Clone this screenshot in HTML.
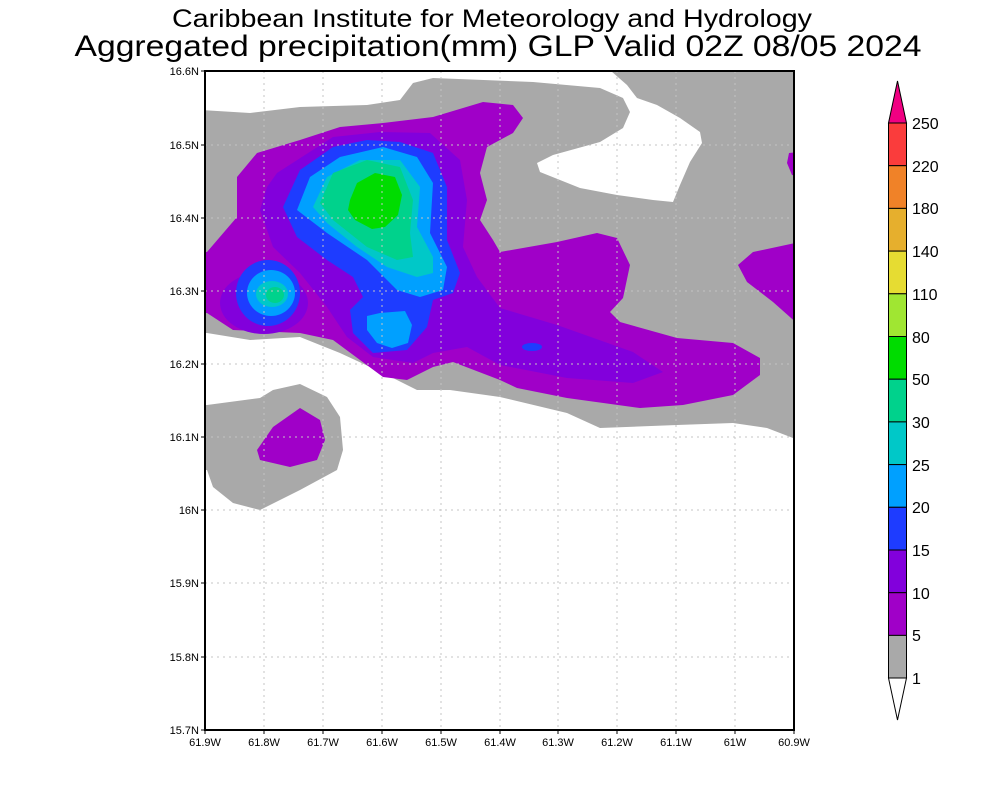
<!DOCTYPE html>
<html><head><meta charset="utf-8"><style>html,body{margin:0;padding:0;background:#fff}svg{display:block}</style></head>
<body>
<svg width="1000" height="800" viewBox="0 0 1000 800" xmlns="http://www.w3.org/2000/svg" font-family="Liberation Sans, sans-serif">
<rect width="1000" height="800" fill="#fff"/>
<text x="492" y="27" text-anchor="middle" font-size="25" textLength="640" lengthAdjust="spacingAndGlyphs">Caribbean Institute for Meteorology and Hydrology</text>
<text x="498" y="56" text-anchor="middle" font-size="30" textLength="847" lengthAdjust="spacingAndGlyphs">Aggregated precipitation(mm) GLP Valid 02Z 08/05 2024</text>
<defs><clipPath id="c"><rect x="205" y="71" width="589" height="659"/></clipPath></defs>
<g clip-path="url(#c)">
<rect x="205" y="71" width="589" height="659" fill="#a9a9a9"/>
<!-- top white + bay -->
<path fill="#fff" d="M200,71 L611,71 L627,85 L637,98 L657,105 L680,118 L700,132 L702,143 L690,162 L680,185 L673,202 L653,200 L617,195 L580,188 L540,172 L537,163 L553,155 L600,142 L623,128 L630,112 L623,98 L600,88 L533,82 L433,78 L413,83 L400,100 L367,105 L300,107 L250,113 L200,110 Z"/>
<!-- bottom white -->
<path fill="#fff" d="M200,333 L207,333 L250,340 L300,337 L340,353 L383,373 L417,390 L450,390 L500,397 L567,413 L600,428 L677,425 L733,423 L767,428 L793,438 L800,442 L800,740 L200,740 Z"/>
<!-- lower-left gray blob -->
<path fill="#a9a9a9" d="M200,405 L207,405 L260,398 L273,390 L300,384 L327,397 L340,417 L343,450 L337,470 L300,490 L260,510 L233,503 L213,487 L207,470 L200,470 Z"/>
<path fill="#a000c8" d="M300,408 L320,420 L325,440 L317,460 L290,467 L260,460 L257,450 L273,427 Z"/>
<!-- right purple blobs -->
<path fill="#a000c8" d="M800,242 L753,252 L738,265 L747,282 L773,302 L800,326 Z"/>
<path fill="#a000c8" d="M800,152 L789,153 L787,163 L792,175 L800,176 Z"/>
<!-- main purple -->
<path fill="#a000c8" d="M200,252 L207,252 L237,217 L237,177 L257,153 L300,140 L340,127 L383,123 L433,117 L483,102 L513,105 L523,118 L513,133 L487,147 L480,173 L487,200 L480,220 L493,240 L500,252 L557,242 L597,233 L617,238 L630,265 L623,298 L610,312 L620,322 L677,338 L733,343 L760,358 L760,375 L733,395 L683,405 L640,408 L567,398 L517,388 L500,380 L453,362 L433,367 L407,380 L383,377 L360,360 L333,340 L300,333 L233,330 L207,313 L200,313 Z"/>
<!-- violet -->
<path fill="#8200dc" d="M267,187 L277,173 L333,137 L380,132 L430,133 L460,160 L467,200 L463,247 L477,277 L500,308 L557,325 L633,352 L663,372 L633,383 L567,378 L500,365 L467,347 L433,353 L413,363 L373,357 L347,337 L327,307 L300,273 L273,247 L260,210 Z"/>
<ellipse cx="264" cy="303" rx="44" ry="31" fill="#8200dc"/>
<!-- blue -->
<path fill="#1e3cff" d="M283,207 L300,170 L333,147 L367,140 L400,142 L433,153 L447,187 L447,240 L460,273 L453,293 L433,300 L427,327 L407,350 L373,353 L353,333 L350,310 L363,297 L353,277 L327,260 L297,237 Z"/>
<ellipse cx="268" cy="293" rx="32" ry="33" fill="#1e3cff"/>
<ellipse cx="532" cy="347" rx="10" ry="4" fill="#1e3cff"/>
<!-- light blue -->
<path fill="#00a0ff" d="M297,210 L310,177 L340,157 L383,147 L417,157 L433,183 L430,233 L447,267 L443,290 L420,297 L397,290 L367,260 L327,233 Z"/>
<path fill="#00a0ff" d="M367,316 L380,313 L405,311 L412,325 L408,343 L392,348 L377,343 L367,330 Z"/>
<ellipse cx="271" cy="293" rx="24" ry="23" fill="#00a0ff"/>
<!-- cyan -->
<path fill="#00c8c8" d="M313,207 L327,177 L360,160 L400,160 L420,187 L417,227 L433,257 L433,273 L417,277 L387,267 L357,247 L327,223 Z"/>
<ellipse cx="272" cy="294" rx="16" ry="13" fill="#00c8c8"/>
<!-- teal -->
<path fill="#00d28c" d="M320,203 L333,173 L367,160 L400,167 L413,200 L410,233 L413,257 L397,260 L367,247 L333,220 Z"/>
<ellipse cx="275" cy="295" rx="9" ry="8" fill="#00d28c"/>
<!-- green -->
<path fill="#00dc00" d="M350,200 L357,183 L375,173 L395,177 L402,195 L398,215 L385,227 L372,229 L355,220 L348,210 Z"/>
</g>
<!-- grid -->
<g stroke="#c4c4c4" stroke-width="1" stroke-dasharray="2,4">
<line x1="264" y1="71" x2="264" y2="730"/><line x1="323" y1="71" x2="323" y2="730"/><line x1="382" y1="71" x2="382" y2="730"/><line x1="441" y1="71" x2="441" y2="730"/><line x1="500" y1="71" x2="500" y2="730"/><line x1="558" y1="71" x2="558" y2="730"/><line x1="617" y1="71" x2="617" y2="730"/><line x1="676" y1="71" x2="676" y2="730"/><line x1="735" y1="71" x2="735" y2="730"/>
<line x1="205" y1="145" x2="794" y2="145"/><line x1="205" y1="218" x2="794" y2="218"/><line x1="205" y1="291" x2="794" y2="291"/><line x1="205" y1="364" x2="794" y2="364"/><line x1="205" y1="437" x2="794" y2="437"/><line x1="205" y1="510" x2="794" y2="510"/><line x1="205" y1="583" x2="794" y2="583"/><line x1="205" y1="657" x2="794" y2="657"/>
</g>
<rect x="205" y="71" width="589" height="659" fill="none" stroke="#000" stroke-width="2"/>
<g stroke="#000" stroke-width="1">
<line x1="201" y1="71" x2="205" y2="71"/><line x1="201" y1="145" x2="205" y2="145"/><line x1="201" y1="218" x2="205" y2="218"/><line x1="201" y1="291" x2="205" y2="291"/><line x1="201" y1="364" x2="205" y2="364"/><line x1="201" y1="437" x2="205" y2="437"/><line x1="201" y1="510" x2="205" y2="510"/><line x1="201" y1="583" x2="205" y2="583"/><line x1="201" y1="657" x2="205" y2="657"/><line x1="201" y1="730" x2="205" y2="730"/>
<line x1="205" y1="730" x2="205" y2="734"/><line x1="264" y1="730" x2="264" y2="734"/><line x1="323" y1="730" x2="323" y2="734"/><line x1="382" y1="730" x2="382" y2="734"/><line x1="441" y1="730" x2="441" y2="734"/><line x1="500" y1="730" x2="500" y2="734"/><line x1="558" y1="730" x2="558" y2="734"/><line x1="617" y1="730" x2="617" y2="734"/><line x1="676" y1="730" x2="676" y2="734"/><line x1="735" y1="730" x2="735" y2="734"/><line x1="794" y1="730" x2="794" y2="734"/>
</g>
<g font-size="11" text-anchor="end" fill="#000">
<text x="199" y="75">16.6N</text><text x="199" y="149">16.5N</text><text x="199" y="222">16.4N</text><text x="199" y="295">16.3N</text><text x="199" y="368">16.2N</text><text x="199" y="441">16.1N</text><text x="199" y="514">16N</text><text x="199" y="587">15.9N</text><text x="199" y="661">15.8N</text><text x="199" y="734">15.7N</text>
</g>
<g font-size="11" text-anchor="middle" fill="#000">
<text x="205" y="746">61.9W</text><text x="264" y="746">61.8W</text><text x="323" y="746">61.7W</text><text x="382" y="746">61.6W</text><text x="441" y="746">61.5W</text><text x="500" y="746">61.4W</text><text x="558" y="746">61.3W</text><text x="617" y="746">61.2W</text><text x="676" y="746">61.1W</text><text x="735" y="746">61W</text><text x="794" y="746">60.9W</text>
</g>
<!-- colorbar -->
<g stroke="#000" stroke-width="1">
<polygon points="888.5,123 897.5,81 906.5,123" fill="#f00082"/>
<rect x="888.5" y="123" width="18" height="42.7" fill="#fa3c3c"/>
<rect x="888.5" y="165.7" width="18" height="42.7" fill="#f08228"/>
<rect x="888.5" y="208.4" width="18" height="42.7" fill="#e6af2d"/>
<rect x="888.5" y="251.1" width="18" height="42.7" fill="#e6dc32"/>
<rect x="888.5" y="293.8" width="18" height="42.7" fill="#a0e632"/>
<rect x="888.5" y="336.5" width="18" height="42.7" fill="#00dc00"/>
<rect x="888.5" y="379.2" width="18" height="42.7" fill="#00d28c"/>
<rect x="888.5" y="421.9" width="18" height="42.7" fill="#00c8c8"/>
<rect x="888.5" y="464.6" width="18" height="42.7" fill="#00a0ff"/>
<rect x="888.5" y="507.3" width="18" height="42.7" fill="#1e3cff"/>
<rect x="888.5" y="550" width="18" height="42.7" fill="#8200dc"/>
<rect x="888.5" y="592.7" width="18" height="42.7" fill="#a000c8"/>
<rect x="888.5" y="635.4" width="18" height="42.6" fill="#a9a9a9"/>
<polygon points="888.5,678 897.5,720 906.5,678" fill="#fff"/>
</g>
<g font-size="16" fill="#000">
<text x="912" y="129">250</text><text x="912" y="172">220</text><text x="912" y="214">180</text><text x="912" y="257">140</text><text x="912" y="300">110</text><text x="912" y="343">80</text><text x="912" y="385">50</text><text x="912" y="428">30</text><text x="912" y="471">25</text><text x="912" y="513">20</text><text x="912" y="556">15</text><text x="912" y="599">10</text><text x="912" y="641">5</text><text x="912" y="684">1</text>
</g>
</svg>
</body></html>
